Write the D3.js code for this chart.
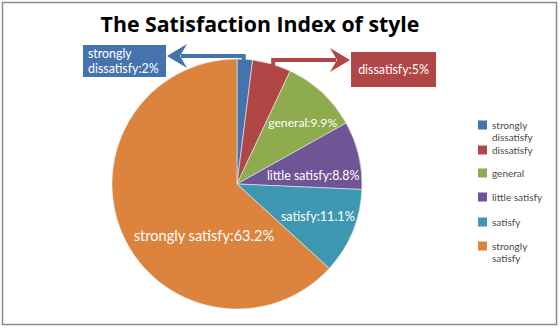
<!DOCTYPE html>
<html><head><meta charset="utf-8">
<script src="https://cdn.jsdelivr.net/npm/d3@7"></script>
<style>
html,body{margin:0;padding:0;background:#fff;}
svg{display:block;}
</style></head>
<body>
<script>
// ---- data ----
const title = "The Satisfaction Index of style";
const categories = ["strongly dissatisfy", "dissatisfy", "general", "little satisfy", "satisfy", "strongly satisfy"];
const values = [2, 5, 9.9, 8.8, 11.1, 63.2];
const legendLines = [["strongly", "dissatisfy"], ["dissatisfy"], ["general"], ["little satisfy"], ["satisfy"], ["strongly", "satisfy"]];
const colors = ["#4573ae", "#b04746", "#8eab4e", "#6f5595", "#3f98b1", "#dc833d"];

// ---- layout / style ----
const W = 560, H = 329;
const cx = 237, cy = 184, R = 125;
const fontLbl = "Lato, 'Open Sans', sans-serif";
// inside labels: offsets from centroid (radius 0.7R) and font size
const inLabel = {2: {off: [6, 7], size: 12.2}, 3: {off: [-9, 16], size: 12.4}, 4: {off: [0, 3.5], size: 12.6}, 5: {off: [47, 22], size: 14.6}};
// callout boxes for small slices
const callouts = {
  0: {box: [83, 45, 83, 32], lines: ["strongly", "dissatisfy:2%"], align: "start", lineY: 56, side: "left", sxOff: -1},
  1: {box: [351, 52, 85, 35], lines: ["dissatisfy:5%"], align: "middle", lineY: 60, side: "right", sxOff: 2}
};

const svg = d3.select("body").append("svg").attr("width", W).attr("height", H);
svg.append("rect").attr("x", 0).attr("y", 0).attr("width", W).attr("height", H).attr("fill", "#fff");
svg.append("rect").attr("x", 2.5).attr("y", 2.5).attr("width", 554).attr("height", 322)
  .attr("fill", "none").attr("stroke", "#8a8a8a").attr("stroke-width", 1.5);

svg.append("text").attr("x", 260).attr("y", 32).attr("text-anchor", "middle")
  .attr("font-family", "'Open Sans', sans-serif").attr("font-weight", "bold").attr("font-size", 21.3)
  .attr("fill", "#000").text(title);

const data = categories.map((c, i) => ({cat: c, value: values[i], i}));
const pie = d3.pie().sort(null).value(d => d.value);
const arcs = pie(data);
const arc = d3.arc().innerRadius(0).outerRadius(R);
const lblArc = d3.arc().innerRadius(R * 0.7).outerRadius(R * 0.7);

const g = svg.append("g").attr("transform", `translate(${cx},${cy})`);
g.selectAll("path.slice").data(arcs).enter().append("path")
  .attr("class", "slice").attr("d", arc)
  .attr("fill", d => colors[d.data.i]).attr("stroke", "#e8eef0").attr("stroke-width", 0.6);

// inside labels
arcs.forEach(d => {
  const L = inLabel[d.data.i];
  if (!L) return;
  const [x, y] = lblArc.centroid(d);
  g.append("text").attr("x", x + L.off[0]).attr("y", y + L.off[1]).attr("text-anchor", "middle")
    .attr("font-family", fontLbl).attr("font-size", L.size).attr("fill", "#fff")
    .text(d.data.cat + ":" + d.data.value + "%");
});

// callouts with arrows
arcs.forEach(d => {
  const c = callouts[d.data.i];
  if (!c) return;
  const col = colors[d.data.i];
  const mid = (d.startAngle + d.endAngle) / 2;
  const sx = cx + Math.sin(mid) * R * 0.98 + c.sxOff;
  const sy = cy - Math.cos(mid) * R * 0.98;
  const [bx, by, bw, bh] = c.box;
  const tipX = c.side === "left" ? bx + bw + 1 : bx - 1;
  const dir = c.side === "left" ? 1 : -1;
  const headLen = 20, headHalf = 12;
  svg.append("path")
    .attr("d", `M${sx},${sy + 3}L${sx},${c.lineY}L${tipX + dir * (headLen - 6)},${c.lineY}`)
    .attr("fill", "none").attr("stroke", col).attr("stroke-width", 4).attr("stroke-linejoin", "miter");
  svg.append("path")
    .attr("d", `M${tipX},${c.lineY}L${tipX + dir * headLen},${c.lineY - headHalf}L${tipX + dir * (headLen - 7)},${c.lineY}L${tipX + dir * headLen},${c.lineY + headHalf}Z`)
    .attr("fill", col);
  svg.append("rect").attr("x", bx).attr("y", by).attr("width", bw).attr("height", bh).attr("fill", col);
  const tx = c.align === "middle" ? bx + bw / 2 : bx + 5;
  const lh = 14.5;
  const y0 = by + bh / 2 - (c.lines.length - 1) * lh / 2 + 4.5;
  c.lines.forEach((ln, k) => svg.append("text").attr("x", tx).attr("y", y0 + k * lh)
    .attr("font-family", fontLbl).attr("font-size", 12.4).attr("fill", "#fff")
    .attr("text-anchor", c.align).text(ln));
});

// legend
const lg = svg.append("g");
const legY = [125, 150, 173, 197, 222, 246];
categories.forEach((c, i) => {
  lg.append("rect").attr("x", 478).attr("y", legY[i] - 4.5).attr("width", 9).attr("height", 9).attr("fill", colors[i]);
  legendLines[i].forEach((ln, k) => lg.append("text").attr("x", 492).attr("y", legY[i] + 4 + k * 11.5)
    .attr("font-family", fontLbl).attr("font-size", 10).attr("fill", "#4a4a4a").text(ln));
});
</script>
</body></html>
